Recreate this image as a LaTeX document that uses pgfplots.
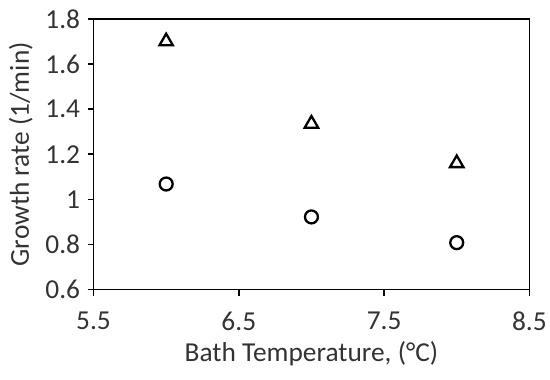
\documentclass[border=0pt]{standalone}
\usepackage{fontspec}
\setmainfont{Carlito}
\usepackage{pgfplots}
\pgfplotsset{compat=1.18}
\begin{document}
\begin{tikzpicture}
\begin{axis}[
    name=ax,
    scale only axis,
    width=438pt, height=272pt,
    xmin=5.5, xmax=8.5,
    ymin=0.6, ymax=1.8,
    xtick={5.5,6.5,7.5,8.5},
    ytick={0.6,0.8,1,1.2,1.4,1.6,1.8},
    tick align=outside,
    tick pos=left,
    major tick length=6pt,
    axis line style={black, line width=1.6pt},
    every tick/.style={black, line width=1.6pt},
    /pgf/number format/assume math mode=true,
    tick label style={font=\fontsize{27.5}{32}\selectfont, text=black!80},
    yticklabel style={xshift=-4pt},
    xticklabel style={yshift=-13pt},
    label style={font=\fontsize{27.5}{32}\selectfont, text=black!80},
    xlabel={Bath Temperature, (°C)},
    ylabel={Growth rate (1/min)},
    xlabel style={yshift=-4pt},
    ylabel style={yshift=6pt},
]
\addplot[only marks, mark=triangle, mark size=7.8pt, mark options={line width=2.3pt, black}] coordinates {
    (6, 1.70)
    (7, 1.335)
    (8, 1.16)
};
\addplot[only marks, mark=o, mark size=6.5pt, mark options={line width=2.3pt, black}] coordinates {
    (6, 1.068)
    (7, 0.922)
    (8, 0.808)
};
\end{axis}
\path ([xshift=-94pt,yshift=-90pt]ax.south west) rectangle ([xshift=18pt,yshift=19pt]ax.north east);
\end{tikzpicture}
\end{document}
